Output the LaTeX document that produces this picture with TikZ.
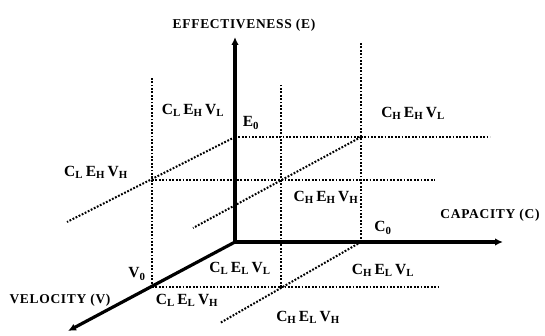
\documentclass[tikz,border=0pt]{standalone}
\usepackage{fontspec}
\setmainfont{Liberation Serif}
\newfontfamily\axfont[LetterSpace=5]{Liberation Serif}
\usetikzlibrary{arrows.meta}
\newcommand{\cev}[3]{C\textsubscript{#1}\,E\textsubscript{#2}\,V\textsubscript{#3}}

\begin{document}
\begin{tikzpicture}[x=1pt, y=-1pt,
  ax/.style={line width=3.2pt, -{Latex[length=8pt,width=7.5pt]}},
  dl/.style={line width=2pt, dash pattern=on 1.8pt off 1.6pt},
  lab/.style={font=\fontsize{15.5}{17}\selectfont\bfseries, inner sep=0pt},
  ttl/.style={font=\fontsize{13.5}{15}\selectfont\axfont\bfseries, inner sep=0pt}]
 \useasboundingbox (0,0) rectangle (545,336);
 % corner points of the cube
 \coordinate (O) at (235,242);
 \coordinate (E0) at (235,137);
 \coordinate (C0) at (361,242);
 \coordinate (V0) at (152,287);
 \coordinate (EV) at (152,180);
 \coordinate (CE) at (361,137);
 \coordinate (CV) at (281,287);
 % free ends of the dotted lines
 \coordinate (Vup) at (152,78);
 \coordinate (CVup) at (281,85);
 \coordinate (Cup) at (361,43);
 \coordinate (E0r) at (490,137);
 \coordinate (EVr) at (435,180);
 \coordinate (V0r) at (438,287);
 \coordinate (d1) at (67,222);
 \coordinate (d2) at (193,228);
 \coordinate (d3) at (220,323);
 % axis tips
 \coordinate (Etip) at (235,37);
 \coordinate (Ctip) at (503,242);
 \coordinate (Vtip) at (68,331);
 % dotted grid
 \draw[dl] (V0) -- (Vup);
 \draw[dl] (CV) -- (CVup);
 \draw[dl] (C0) -- (Cup);
 \draw[dl] (E0) -- (E0r);
 \draw[dl] (EV) -- (EVr);
 \draw[dl] (V0) -- (V0r);
 \draw[dl] (E0) -- (d1);
 \draw[dl] (CE) -- (d2);
 \draw[dl] (C0) -- (d3);
 % axes
 \draw[ax] (O) -- (Etip);
 \draw[ax] (O) -- (Ctip);
 \draw[ax] (O) -- (Vtip);
 \node[ttl] (eff) at (244,25) {EFFECTIVENESS (E)};
 \node[ttl] (cap) at (490,215) {CAPACITY (C)};
 \node[ttl] (vel) at (60,300) {VELOCITY (V)};
 % thresholds
 \node[lab] (e0) at (251,123) {E\textsubscript{0}};
 \node[lab] (c0) at (383,228) {C\textsubscript{0}};
 \node[lab] (v0) at (137,274) {V\textsubscript{0}};
 % octants
 \node[lab] (lhl) at (193,110) {\cev{L}{H}{L}};
 \node[lab] (hhl) at (413,113) {\cev{H}{H}{L}};
 \node[lab] (lhh) at (96,172) {\cev{L}{H}{H}};
 \node[lab] (hhh) at (326,197) {\cev{H}{H}{H}};
 \node[lab] (lll) at (240,268) {\cev{L}{L}{L}};
 \node[lab] (llh) at (187,300) {\cev{L}{L}{H}};
 \node[lab] (hll) at (383,270) {\cev{H}{L}{L}};
 \node[lab] (hlh) at (308,317) {\cev{H}{L}{H}};
\end{tikzpicture}
\end{document}
